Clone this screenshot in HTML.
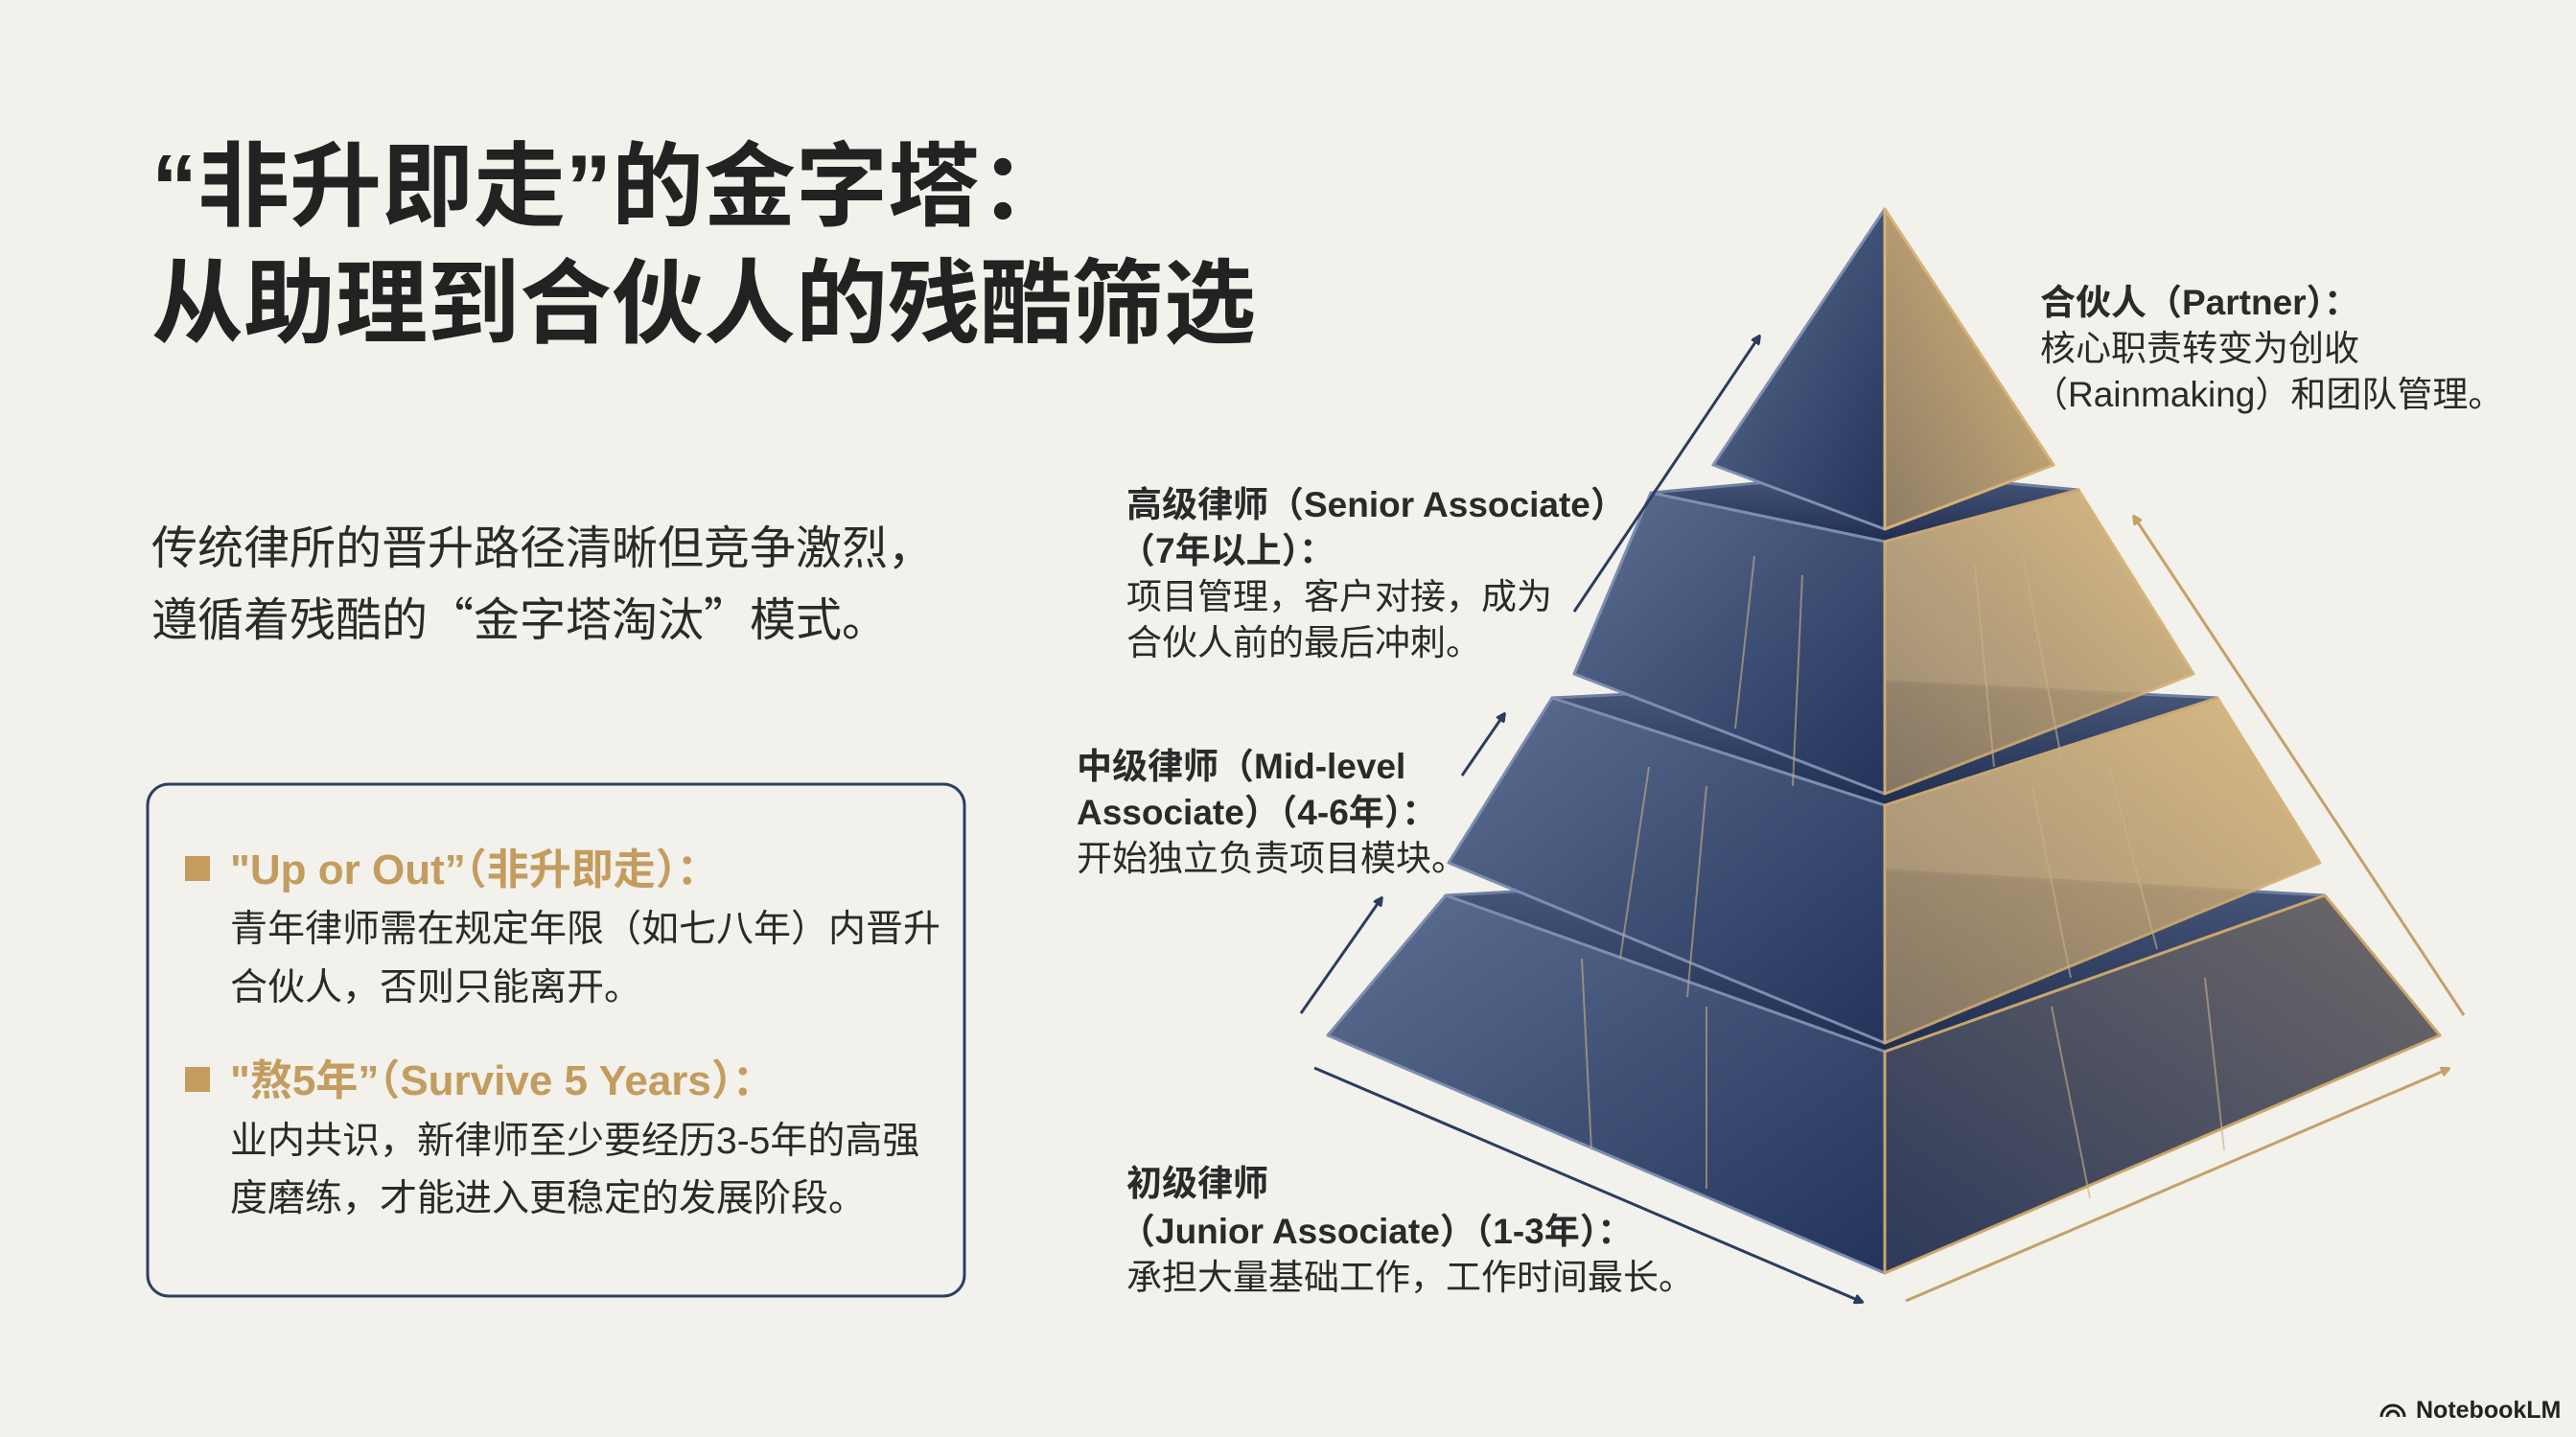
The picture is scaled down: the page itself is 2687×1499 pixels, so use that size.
<!DOCTYPE html>
<html><head><meta charset="utf-8"><style>
html,body{margin:0;padding:0;background:#f3f1eb;}
svg{display:block}
text{font-family:"Liberation Sans","Noto Sans CJK SC",sans-serif;}
.cj{font-family:"Noto Sans CJK SC","Liberation Sans",sans-serif;}
.lq{font-family:"Liberation Sans",sans-serif;}
</style></head><body>
<svg width="2687" height="1499" viewBox="0 0 2687 1499" xmlns="http://www.w3.org/2000/svg">
<defs>
<linearGradient id="nv" x1="0" y1="0" x2="1" y2="1"><stop offset="0" stop-color="#5d6f92"/><stop offset="1" stop-color="#23335a"/></linearGradient>
<linearGradient id="gd" x1="1" y1="0" x2="0" y2="1"><stop offset="0" stop-color="#d9b77a"/><stop offset="1" stop-color="#8f7d66"/></linearGradient>
<linearGradient id="gb" x1="1" y1="0" x2="0" y2="1"><stop offset="0" stop-color="#6f6a6a"/><stop offset="1" stop-color="#2e3a5a"/></linearGradient>
<linearGradient id="tp" x1="0" y1="0" x2="0" y2="1"><stop offset="0" stop-color="#4a5a7c"/><stop offset="1" stop-color="#1f2d4f"/></linearGradient>
<marker id="an" markerWidth="10" markerHeight="10" refX="8" refY="5" orient="auto" markerUnits="userSpaceOnUse"><path d="M0,0 L10,5 L0,10 Z" fill="#2c3c60" transform="scale(2) translate(-4,-2.5)"/></marker>
<marker id="ag" markerWidth="10" markerHeight="10" refX="8" refY="5" orient="auto" markerUnits="userSpaceOnUse"><path d="M0,0 L10,5 L0,10 Z" fill="#c4a06a" transform="scale(2) translate(-4,-2.5)"/></marker>
</defs>
<rect width="2687" height="1499" fill="#f3f1eb"/>

<text class="cj" x="158" y="228" font-size="96" font-weight="bold" fill="#222"><tspan class="lq">“</tspan>非升即走<tspan class="lq">”</tspan>的金字塔：</text>
<text class="cj" x="158" y="350" font-size="96" font-weight="bold" fill="#222">从助理到合伙人的残酷筛选</text>
<text class="cj" x="158" y="588" font-size="48" fill="#2a2a2a">传统律所的晋升路径清晰但竞争激烈，</text>
<text class="cj" x="158" y="663" font-size="48" fill="#2a2a2a">遵循着残酷的“金字塔淘汰”模式。</text>

<rect x="154" y="818" width="852" height="534" rx="22" fill="none" stroke="#2e3f63" stroke-width="3"/>
<rect x="193" y="893" width="26" height="26" fill="#c39c5e"/>
<text x="240" y="922" font-size="44" font-weight="bold" fill="#c39c5e">"Up or Out”（非升即走）：</text>
<text x="240" y="982" font-size="39" fill="#2a2a2a">青年律师需在规定年限（如七八年）内晋升</text>
<text x="240" y="1043" font-size="39" fill="#2a2a2a">合伙人，否则只能离开。</text>
<rect x="193" y="1113" width="26" height="26" fill="#c39c5e"/>
<text x="240" y="1142" font-size="44" font-weight="bold" fill="#c39c5e">"熬5年”（Survive 5 Years）：</text>
<text x="240" y="1203" font-size="39" fill="#2a2a2a">业内共识，新律师至少要经历3-5年的高强</text>
<text x="240" y="1263" font-size="39" fill="#2a2a2a">度磨练，才能进入更稳定的发展阶段。</text>

<g stroke-linejoin="round">
<polygon points="1508,934 1966,908 2425,934 1966,1097" fill="url(#tp)" stroke="#6e7fa0" stroke-width="3"/>
<polygon points="1508,934 1966,1097 1966,1328 1385,1080" fill="url(#nv)" stroke="#7d8db0" stroke-width="3"/>
<polygon points="2425,934 1966,1097 1966,1328 2545,1080" fill="url(#gb)" stroke="#c9a66b" stroke-width="3"/>
<polygon points="1619,728 1966,711 2313,728 1966,840" fill="url(#tp)" stroke="#6e7fa0" stroke-width="3"/>
<polygon points="1619,728 1966,840 1966,1088 1511,900" fill="url(#nv)" stroke="#7d8db0" stroke-width="3"/>
<polygon points="2313,728 1966,840 1966,1088 2420,900" fill="url(#gd)" stroke="#d2ae70" stroke-width="3" opacity="0.9"/>
<polygon points="1722,514 1966,492 2168,511 1966,565" fill="url(#tp)" stroke="#6e7fa0" stroke-width="3"/>
<polygon points="1722,514 1966,565 1966,828 1642,703" fill="url(#nv)" stroke="#7d8db0" stroke-width="3"/>
<polygon points="2168,511 1966,565 1966,828 2288,703" fill="url(#gd)" stroke="#d2ae70" stroke-width="3" opacity="0.9"/>
<polygon points="1966,218 1787,485 1966,552" fill="url(#nv)" stroke="#8090b0" stroke-width="3"/>
<polygon points="1966,218 2142,485 1966,552" fill="url(#gd)" stroke="#d6b277" stroke-width="3"/>
<g stroke="#c9b08a" stroke-width="2" fill="none" opacity="0.6">
<path d="M1830,580 L1810,760 M1880,600 L1870,820 M2060,590 L2080,800 M2110,580 L2150,790"/>
<path d="M1720,800 L1690,1000 M1780,820 L1760,1040 M2120,820 L2160,1020 M2200,800 L2250,990"/>
<path d="M1650,1000 L1660,1200 M1780,1050 L1780,1240 M2140,1050 L2180,1250 M2300,1020 L2320,1200"/>
</g>
</g>

<g stroke-width="3" fill="none">
<line x1="1642" y1="638" x2="1835" y2="351" stroke="#2c3c60" marker-end="url(#an)"/>
<line x1="1525" y1="809" x2="1569" y2="745" stroke="#2c3c60" marker-end="url(#an)"/>
<line x1="1357" y1="1057" x2="1441" y2="937" stroke="#2c3c60" marker-end="url(#an)"/>
<line x1="1371" y1="1114" x2="1942" y2="1358" stroke="#2c3c60" marker-end="url(#an)"/>
<line x1="2570" y1="1059" x2="2226" y2="539" stroke="#c4a06a" marker-end="url(#ag)"/>
<line x1="1988" y1="1357" x2="2554" y2="1115" stroke="#c4a06a" marker-end="url(#ag)"/>
</g>

<g font-size="37" fill="#2a2a2a">
<text x="2128" y="328" font-weight="bold">合伙人（Partner）：</text>
<text x="2128" y="376">核心职责转变为创收</text>
<text x="2120" y="424">（Rainmaking）和团队管理。</text>
<text x="1175" y="539" font-weight="bold">高级律师（Senior Associate）</text>
<text x="1168" y="587" font-weight="bold">（7年以上）：</text>
<text x="1175" y="635">项目管理，客户对接，成为</text>
<text x="1175" y="683">合伙人前的最后冲刺。</text>
<text x="1123" y="812" font-weight="bold">中级律师（Mid-level</text>
<text x="1123" y="860" font-weight="bold">Associate）（4-6年）：</text>
<text x="1123" y="908">开始独立负责项目模块。</text>
<text x="1175" y="1247" font-weight="bold">初级律师</text>
<text x="1168" y="1297" font-weight="bold">（Junior Associate）（1-3年）：</text>
<text x="1175" y="1345">承担大量基础工作，工作时间最长。</text>
</g>

<text x="2520" y="1479" font-size="25" font-weight="bold" fill="#222">NotebookLM</text>
<path d="M2484,1478 a12,12 0 0 1 24,0 M2490,1478 a6,6 0 0 1 12,0" stroke="#222" stroke-width="3" fill="none"/>
</svg>
</body></html>
